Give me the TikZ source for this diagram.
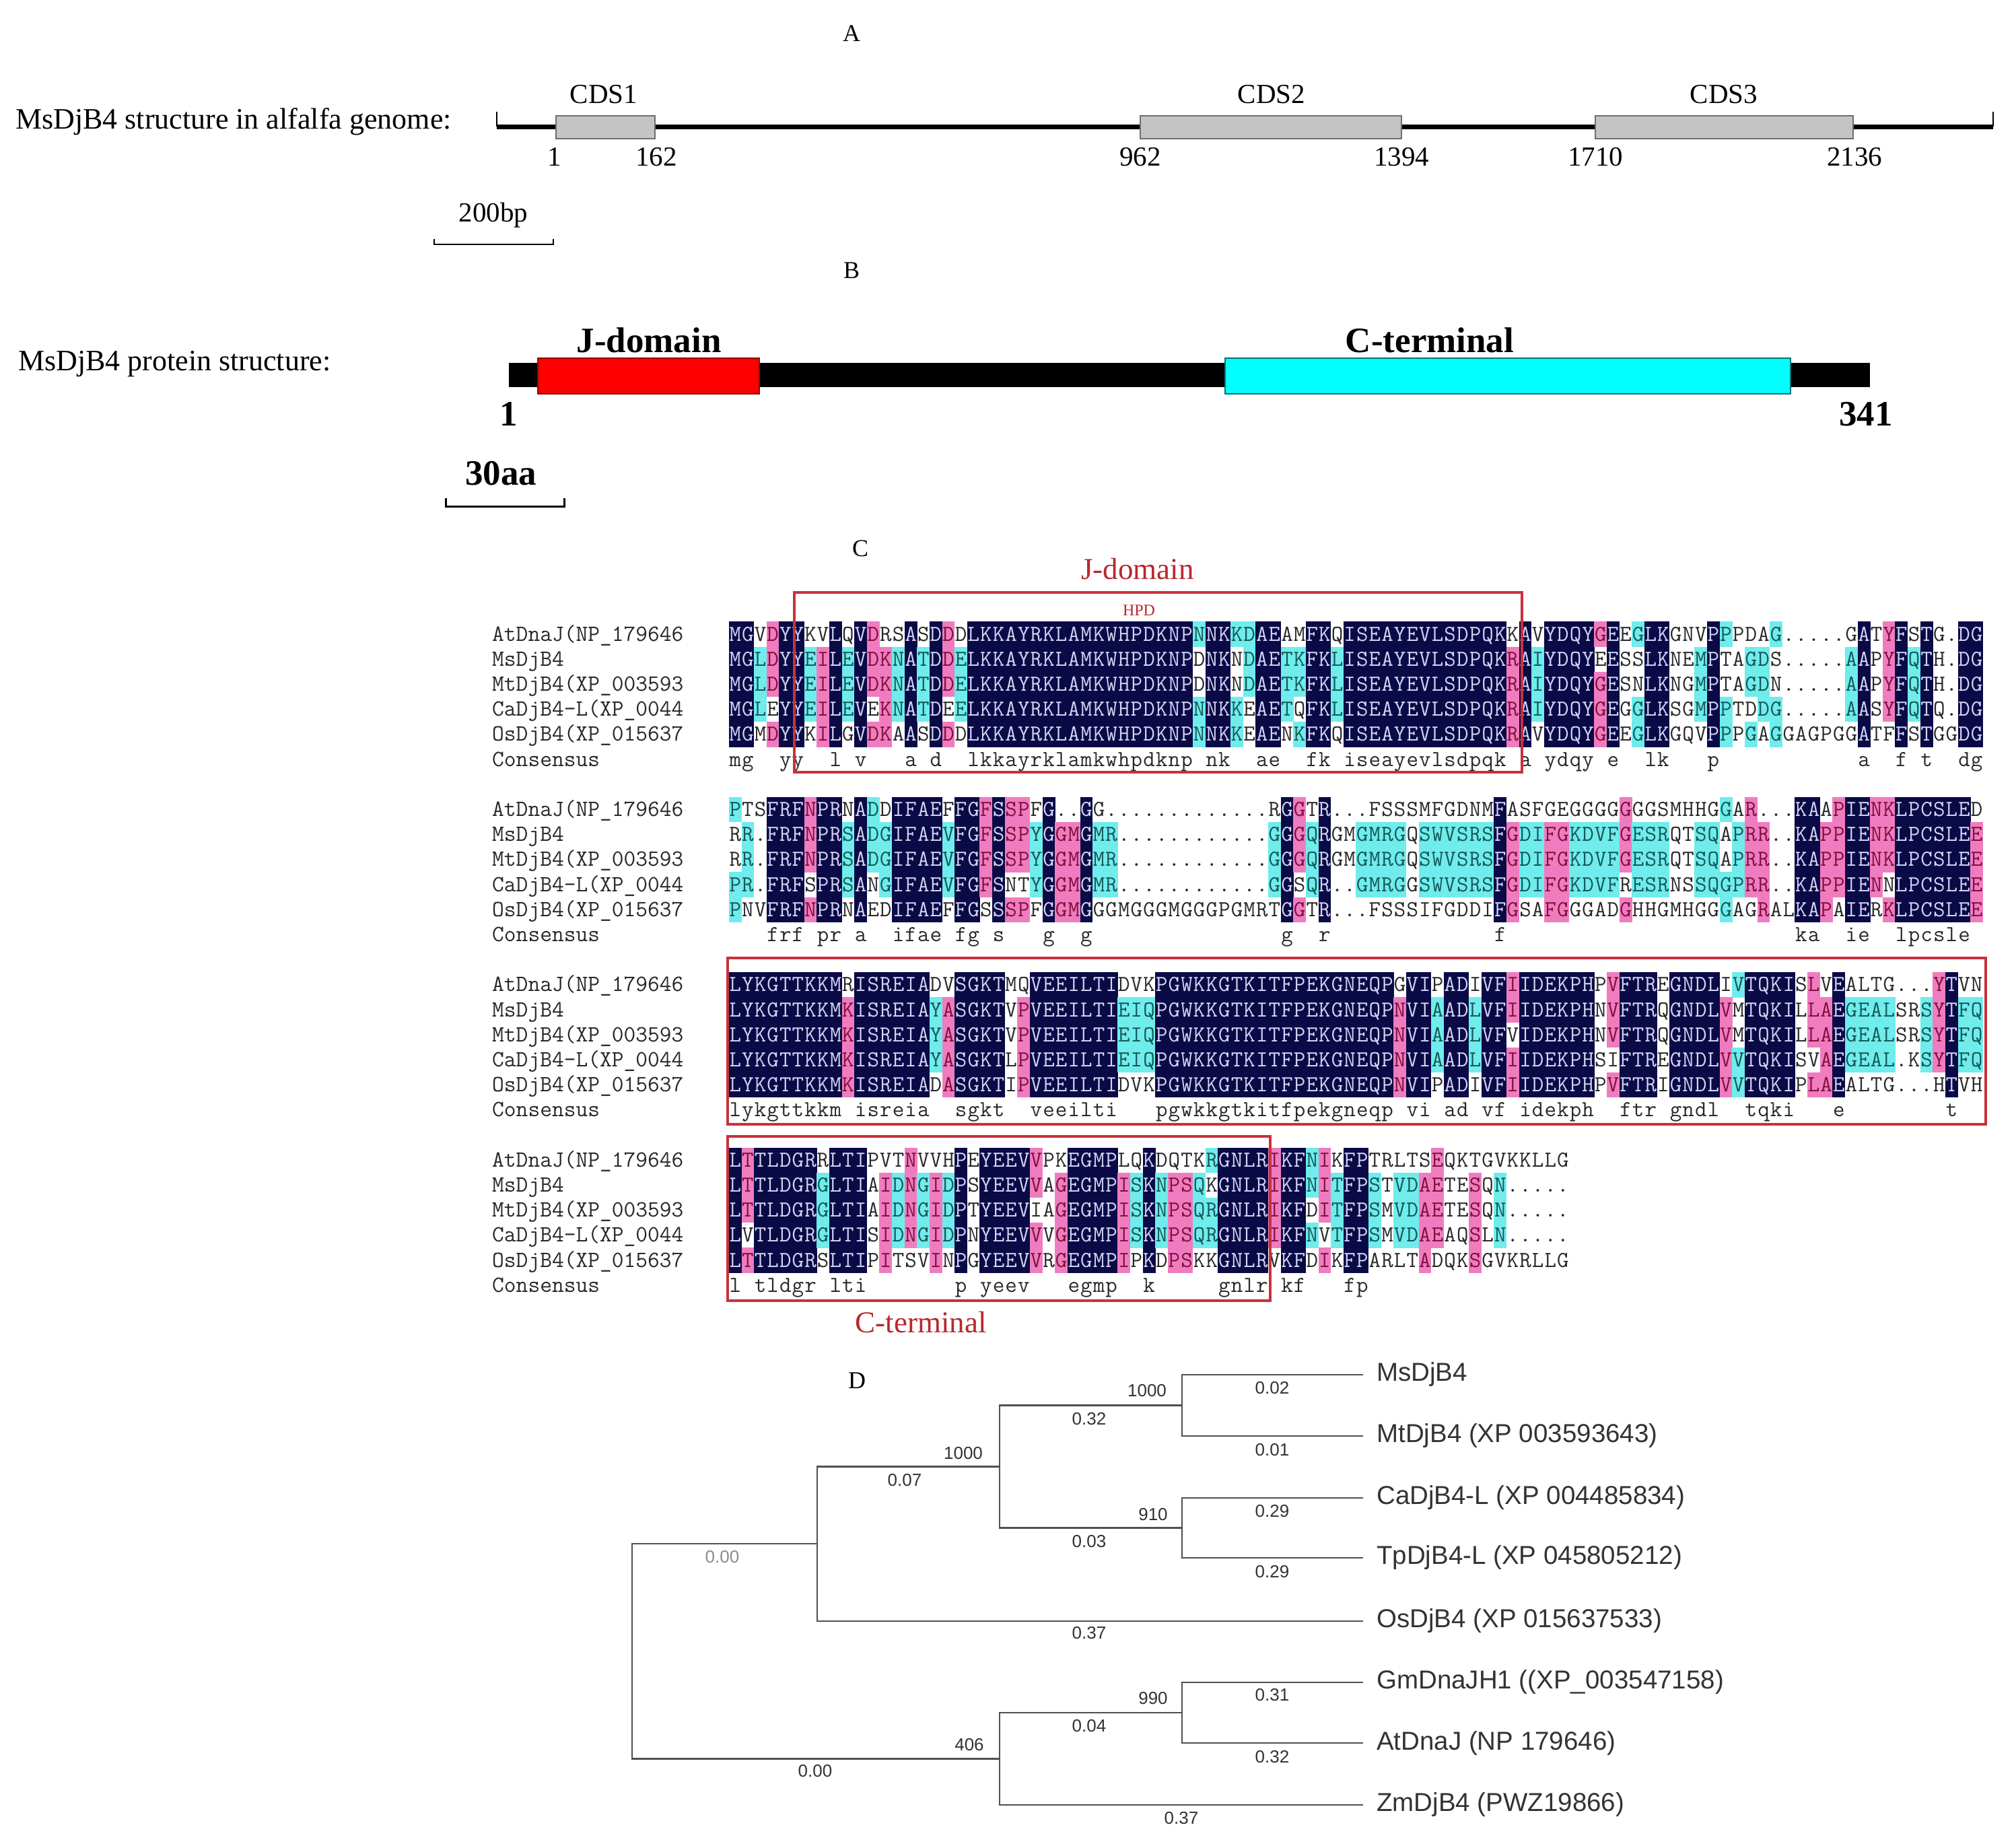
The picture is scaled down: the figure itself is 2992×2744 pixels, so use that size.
\documentclass[tikz,border=0pt]{standalone}
\usepackage{fontspec}
\setmainfont{Liberation Serif}
\newfontfamily\treefont{Liberation Sans}
\newcommand\alnfont{\ttfamily}
\definecolor{alnnavy}{HTML}{0A0A46}
\definecolor{alnpink}{HTML}{F07CC0}
\definecolor{alncyan}{HTML}{70ECEC}
\definecolor{txnavy}{HTML}{D4D4F4}
\definecolor{txpink}{HTML}{80103C}
\definecolor{txcyan}{HTML}{145858}
\definecolor{txplain}{HTML}{282828}
\definecolor{boxred}{HTML}{C8323C}
\definecolor{labred}{HTML}{B82830}
\definecolor{cdsfill}{HTML}{C4C4C4}
\definecolor{cdsedge}{HTML}{6E6E6E}
\definecolor{treegray}{HTML}{505050}
\definecolor{ctfill}{HTML}{00FFFF}
\definecolor{ctedge}{HTML}{0A7070}
\definecolor{jdfill}{HTML}{FF0000}
\definecolor{jdedge}{HTML}{8A0A0A}
\def\AlnXo{1083}
\def\AlnW{18.63}
\def\AlnDy{37.2}
\tikzset{
  bgN/.style={fill=alnnavy}, bgP/.style={fill=alnpink}, bgC/.style={fill=alncyan}, bgW/.style={},
  txN/.style={text=txnavy}, txP/.style={text=txpink}, txC/.style={text=txcyan}, txW/.style={text=txplain},
  alnch/.style={inner sep=0pt, anchor=base, font=\alnfont\fontsize{34}{34}\selectfont},
  alnname/.style={inner sep=0pt, anchor=base west, text=txplain, font=\alnfont\fontsize{34.5}{34}\selectfont},
  serifL/.style={inner sep=0pt, font=\fontsize{44}{50}\selectfont},
  serifA/.style={inner sep=0pt, font=\fontsize{41}{46}\selectfont},
  lett/.style={inner sep=0pt, font=\fontsize{36}{40}\selectfont},
  boldB/.style={inner sep=0pt, font=\bfseries\fontsize{53}{58}\selectfont},
  redlab/.style={inner sep=0pt, text=labred, font=\fontsize{45}{50}\selectfont},
  redbox/.style={draw=boxred, line width=3.5pt},
  cds/.style={draw=cdsedge, fill=cdsfill, line width=2pt, inner sep=0pt},
  tree/.style={draw=treegray, line width=2.5pt},
  leaflab/.style={inner sep=0pt, anchor=west, text=black!80, font=\treefont\fontsize{38.5}{42}\selectfont},
  brlab/.style={inner sep=0pt, text=black!80, font=\treefont\fontsize{26}{28}\selectfont},
}
\newcommand\AlnCell[4]{%
  \path[bg#3] (#1-9.45,#2-18.7) rectangle (#1+9.45,#2+18.7);%
  \node[alnch,tx#3] at (#1,#2+10) {#4};}
\newcommand\AlnCons[3]{\node[alnch,txW] at (#1,#2+10) {#3};}
\ExplSyntaxOn
\str_new:N \l__aln_a_str
\str_new:N \l__aln_b_str
\str_new:N \l__aln_c_str
\str_new:N \l__aln_d_str
\str_new:N \l__aln_e_str
\tl_new:N \l__aln_x_tl
\tl_new:N \l__aln_y_tl
\cs_new:Npn \__aln_eq:nn #1#2 { \str_if_eq:nnTF {#1} {#2} { 1 } { 0 } }
\cs_new:Npn \__aln_kind:nnnnnn #1#2#3#4#5#6
  {
    \str_if_eq:nnTF {#1} { . }
      { W }
      {
        \int_case:nnF
          {
            \__aln_eq:nn {#1} {#2} + \__aln_eq:nn {#1} {#3} + \__aln_eq:nn {#1} {#4}
            + \__aln_eq:nn {#1} {#5} + \__aln_eq:nn {#1} {#6}
          }
          {
            { 5 } { N }
            { 4 } { P }
            { 3 } { C }
          }
          { W }
      }
  }
\cs_new_protected:Npn \__aln_cell:nnnnnnn #1#2#3#4#5#6#7
  {
    \use:e
      {
        \exp_not:N \AlnCell
          { \l__aln_x_tl }
          { \fp_eval:n { \l__aln_y_tl + #1 * \AlnDy } }
          { \__aln_kind:nnnnnn {#2} {#3} {#4} {#5} {#6} {#7} }
          { \exp_not:n {#2} }
      }
  }
\cs_new_protected:Npn \__aln_column:nnnnnn #1#2#3#4#5#6
  {
    \tl_set:Nx \l__aln_x_tl { \fp_eval:n { \AlnXo + (#1 - 0.5) * \AlnW } }
    \__aln_cell:nnnnnnn {0} {#2} {#2} {#3} {#4} {#5} {#6}
    \__aln_cell:nnnnnnn {1} {#3} {#2} {#3} {#4} {#5} {#6}
    \__aln_cell:nnnnnnn {2} {#4} {#2} {#3} {#4} {#5} {#6}
    \__aln_cell:nnnnnnn {3} {#5} {#2} {#3} {#4} {#5} {#6}
    \__aln_cell:nnnnnnn {4} {#6} {#2} {#3} {#4} {#5} {#6}
    \str_if_eq:eeT { \__aln_kind:nnnnnn {#2} {#2} {#3} {#4} {#5} {#6} } { N }
      {
        \use:e
          {
            \exp_not:N \AlnCons
              { \l__aln_x_tl }
              { \fp_eval:n { \l__aln_y_tl + 5 * \AlnDy } }
              { \text_lowercase:n {#2} }
          }
      }
  }
\cs_generate_variant:Nn \__aln_column:nnnnnn { neeeee }
\NewDocumentCommand \AlnBlock { m m m m m m }
  {
    \tl_set:Nn \l__aln_y_tl {#1}
    \str_set:Nn \l__aln_a_str {#2}
    \str_set:Nn \l__aln_b_str {#3}
    \str_set:Nn \l__aln_c_str {#4}
    \str_set:Nn \l__aln_d_str {#5}
    \str_set:Nn \l__aln_e_str {#6}
    \int_step_inline:nn { \str_count:N \l__aln_a_str }
      {
        \__aln_column:neeeee {##1}
          { \str_item:Nn \l__aln_a_str {##1} }
          { \str_item:Nn \l__aln_b_str {##1} }
          { \str_item:Nn \l__aln_c_str {##1} }
          { \str_item:Nn \l__aln_d_str {##1} }
          { \str_item:Nn \l__aln_e_str {##1} }
      }
  }
\ExplSyntaxOff
\begin{document}
\begin{tikzpicture}[x=1pt,y=-1pt]
\useasboundingbox (0,0) rectangle (2992,2744);
\fill[white] (0,0) rectangle (2992,2744);
% ---------------- A ----------------
\node[lett] (lA) at (1265,50) {A};
\node[serifL,anchor=west] (titleA) at (23,181) {MsDjB4 structure in alfalfa genome:};
\coordinate (g0) at (738,188);
\coordinate (g1) at (2961,188);
\draw[line width=7pt] (g0) -- (g1);
\draw[line width=2.5pt] (738,166) -- (g0);
\draw[line width=2.5pt] (2961,166) -- (g1);
\node[cds, minimum width=147pt, minimum height=34pt] (cds1) at (899.5,189) {};
\node[cds, minimum width=388pt, minimum height=34pt] (cds2) at (1888,189) {};
\node[cds, minimum width=383pt, minimum height=34pt] (cds3) at (2561.5,189) {};
\node[serifA] (lc1) at (897,140) {CDS1};
\node[serifA] (lc2) at (1889,140) {CDS2};
\node[serifA] (lc3) at (2561,140) {CDS3};
\node[serifA] (p1) at (824,233) {1};
\node[serifA] (p2) at (975,233) {162};
\node[serifA] (p3) at (1694,233) {962};
\node[serifA] (p4) at (2082,233) {1394};
\node[serifA] (p5) at (2370,233) {1710};
\node[serifA] (p6) at (2755,233) {2136};
\node[serifA] (bp) at (733,320) {200bp};
\coordinate (sa0) at (645,355);
\coordinate (sa1) at (822,355);
\draw[line width=2pt] (sa0) -- ++(0,8) -| (sa1);
% ---------------- B ----------------
\node[lett] (lB) at (1265,402) {B};
\node[serifL,anchor=west] (titleB) at (27,541) {MsDjB4 protein structure:};
\node[fill=black, inner sep=0pt, minimum width=2022pt, minimum height=36pt] (pbar) at (1767,556.5) {};
\node[fill=jdfill, draw=jdedge, line width=2pt, inner sep=0pt, minimum width=329pt, minimum height=53pt] (jdom) at (963.5,558.5) {};
\node[fill=ctfill, draw=ctedge, line width=2pt, inner sep=0pt, minimum width=840pt, minimum height=53pt] (cterm) at (2240,558.5) {};
\node[boldB] (ljd) at (964,505) {J-domain};
\node[boldB] (lct) at (2124,505) {C-terminal};
\node[boldB] (b1) at (756,615) {1};
\node[boldB] (b341) at (2772,615) {341};
\node[boldB] (aa) at (744,703) {30aa};
\coordinate (sb0) at (662,740);
\coordinate (sb1) at (838,740);
\draw[line width=3pt] (sb0) -- ++(0,12) -| (sb1);
% ---------------- C ----------------
\node[lett] (lC) at (1278,815) {C};
\node[redlab] (cjd) at (1690,845) {J-domain};
\node[inner sep=0pt, text=labred, font=\fontsize{24}{26}\selectfont] (hpd) at (1692,907) {HPD};
\foreach \b/\yb in {0/942,1/1202.4,2/1462.8,3/1723.2}{
  \node[alnname] (nm\b a) at (731,\yb+10) {AtDnaJ(NP\_179646};
  \node[alnname] (nm\b b) at (731,\yb+37.2+10) {MsDjB4};
  \node[alnname] (nm\b c) at (731,\yb+74.4+10) {MtDjB4(XP\_003593};
  \node[alnname] (nm\b d) at (731,\yb+111.6+10) {CaDjB4-L(XP\_0044};
  \node[alnname] (nm\b e) at (731,\yb+148.8+10) {OsDjB4(XP\_015637};
  \node[alnname] (nm\b f) at (731,\yb+186+10) {Consensus};
}
\AlnBlock{942}
 {MGVDYYKVLQVDRSASDDDLKKAYRKLAMKWHPDKNPNNKKDAEAMFKQISEAYEVLSDPQKKAVYDQYGEEGLKGNVPPPDAG.....GATYFSTG.DG}
 {MGLDYYEILEVDKNATDDELKKAYRKLAMKWHPDKNPDNKNDAETKFKLISEAYEVLSDPQKRAIYDQYEESSLKNEMPTAGDS.....AAPYFQTH.DG}
 {MGLDYYEILEVDKNATDDELKKAYRKLAMKWHPDKNPDNKNDAETKFKLISEAYEVLSDPQKRAIYDQYGESNLKNGMPTAGDN.....AAPYFQTH.DG}
 {MGLEYYEILEVEKNATDEELKKAYRKLAMKWHPDKNPNNKKEAETQFKLISEAYEVLSDPQKRAIYDQYGEGGLKSGMPPTDDG.....AASYFQTQ.DG}
 {MGMDYYKILGVDKAASDDDLKKAYRKLAMKWHPDKNPNNKKEAENKFKQISEAYEVLSDPQKRAVYDQYGEEGLKGQVPPPGAGGAGPGGATFFSTGGDG}
\AlnBlock{1202.4}
 {PTSFRFNPRNADDIFAEFFGFSSPFG..GG.............RGGTR...FSSSMFGDNMFASFGEGGGGGGGSMHHGGAR...KAAPIENKLPCSLED}
 {RR.FRFNPRSADGIFAEVFGFSSPYGGMGMR............GGGQRGMGMRGQSWVSRSFGDIFGKDVFGESRQTSQAPRR..KAPPIENKLPCSLEE}
 {RR.FRFNPRSADGIFAEVFGFSSPYGGMGMR............GGGQRGMGMRGQSWVSRSFGDIFGKDVFGESRQTSQAPRR..KAPPIENKLPCSLEE}
 {PR.FRFSPRSANGIFAEVFGFSNTYGGMGMR............GGSQR..GMRGGSWVSRSFGDIFGKDVFRESRNSSQGPRR..KAPPIENNLPCSLEE}
 {PNVFRFNPRNAEDIFAEFFGSSSPFGGMGGGMGGGMGGGPGMRTGGTR...FSSSIFGDDIFGSAFGGGADGHHGMHGGGAGRALKAPAIERKLPCSLEE}
\AlnBlock{1462.8}
 {LYKGTTKKMRISREIADVSGKTMQVEEILTIDVKPGWKKGTKITFPEKGNEQPGVIPADIVFIIDEKPHPVFTREGNDLIVTQKISLVEALTG...YTVN}
 {LYKGTTKKMKISREIAYASGKTVPVEEILTIEIQPGWKKGTKITFPEKGNEQPNVIAADLVFIIDEKPHNVFTRQGNDLVMTQKILLAEGEALSRSYTFQ}
 {LYKGTTKKMKISREIAYASGKTVPVEEILTIEIQPGWKKGTKITFPEKGNEQPNVIAADLVFVIDEKPHNVFTRQGNDLVMTQKILLAEGEALSRSYTFQ}
 {LYKGTTKKMKISREIAYASGKTLPVEEILTIEIQPGWKKGTKITFPEKGNEQPNVIAADLVFIIDEKPHSIFTREGNDLVVTQKISVAEGEAL.KSYTFQ}
 {LYKGTTKKMKISREIADASGKTIPVEEILTIDVKPGWKKGTKITFPEKGNEQPNVIPADIVFIIDEKPHPVFTRIGNDLVVTQKIPLAEALTG...HTVH}
\AlnBlock{1723.2}
 {LTTLDGRRLTIPVTNVVHPEYEEVVPKEGMPLQKDQTKRGNLRIKFNIKFPTRLTSEQKTGVKKLLG}
 {LTTLDGRGLTIAIDNGIDPSYEEVVAGEGMPISKNPSQKGNLRIKFNITFPSTVDAETESQN.....}
 {LTTLDGRGLTIAIDNGIDPTYEEVIAGEGMPISKNPSQRGNLRIKFDITFPSMVDAETESQN.....}
 {LVTLDGRGLTISIDNGIDPNYEEVVVGEGMPISKNPSQRGNLRIKFNVTFPSMVDAEAQSLN.....}
 {LTTLDGRSLTIPITSVINPGYEEVVRGEGMPIPKDPSKKGNLRVKFDIKFPARLTADQKSGVKRLLG}
\draw[redbox] (1180,880) rectangle (2261,1147);
\draw[redbox] (1081,1423) rectangle (2950,1670);
\draw[redbox] (1081,1688) rectangle (1887,1932);
\node[redlab] (cct) at (1368,1964) {C-terminal};
% ---------------- D ----------------
\node[lett] (lD) at (1273,2051) {D};
\coordinate (tMs) at (2025,2042);
\coordinate (tMt) at (2025,2133);
\coordinate (tCa) at (2025,2225);
\coordinate (tTp) at (2025,2314);
\coordinate (tOs) at (2025,2408);
\coordinate (tGm) at (2025,2499);
\coordinate (tAt) at (2025,2589);
\coordinate (tZm) at (2025,2681);
\coordinate (nC) at (1756,2087.5);
\coordinate (nD) at (1756,2269.5);
\coordinate (nB) at (1485,2178.5);
\coordinate (nA) at (1214,2293);
\coordinate (nF) at (1756,2544);
\coordinate (nE) at (1485,2612.5);
\coordinate (nR) at (939,2452.75);
\draw[tree] (tMs) -| (nC) |- (tMt);
\draw[tree] (tCa) -| (nD) |- (tTp);
\draw[tree] (nC) -| (nB) |- (nD);
\draw[tree] (nB) -| (nA) |- (tOs);
\draw[tree] (tGm) -| (nF) |- (tAt);
\draw[tree] (nF) -| (nE) |- (tZm);
\draw[tree] (nA) -| (nR) |- (nE);
\node[leaflab] (lMs) at (2045,2042) {MsDjB4};
\node[leaflab] (lMt) at (2045,2133) {MtDjB4 (XP 003593643)};
\node[leaflab] (lCa) at (2045,2225) {CaDjB4-L (XP 004485834)};
\node[leaflab] (lTp) at (2045,2314) {TpDjB4-L (XP 045805212)};
\node[leaflab] (lOs) at (2045,2408) {OsDjB4 (XP 015637533)};
\node[leaflab] (lGm) at (2045,2499) {GmDnaJH1 ((XP\_003547158)};
\node[leaflab] (lAt) at (2045,2589) {AtDnaJ (NP 179646)};
\node[leaflab] (lZm) at (2045,2681) {ZmDjB4 (PWZ19866)};
\node[brlab, text=black!45] (b00a) at (1073,2313) {0.00};
\node[brlab] (bs1) at (1431,2159) {1000};
\node[brlab] (b007) at (1344,2199) {0.07};
\node[brlab] (bs2) at (1704,2066) {1000};
\node[brlab] (b032) at (1618,2108) {0.32};
\node[brlab] (bs3) at (1713,2250) {910};
\node[brlab] (b003) at (1618,2290) {0.03};
\node[brlab] (b002) at (1890,2062) {0.02};
\node[brlab] (b001) at (1890,2154) {0.01};
\node[brlab] (b029a) at (1890,2245) {0.29};
\node[brlab] (b029b) at (1890,2335) {0.29};
\node[brlab] (b037a) at (1618,2426) {0.37};
\node[brlab] (bs4) at (1713,2523) {990};
\node[brlab] (b004) at (1618,2564) {0.04};
\node[brlab] (b031) at (1890,2518) {0.31};
\node[brlab] (b032b) at (1890,2610) {0.32};
\node[brlab] (bs5) at (1440,2592) {406};
\node[brlab] (b00b) at (1211,2631) {0.00};
\node[brlab] (b037b) at (1755,2701) {0.37};
\end{tikzpicture}
\end{document}
